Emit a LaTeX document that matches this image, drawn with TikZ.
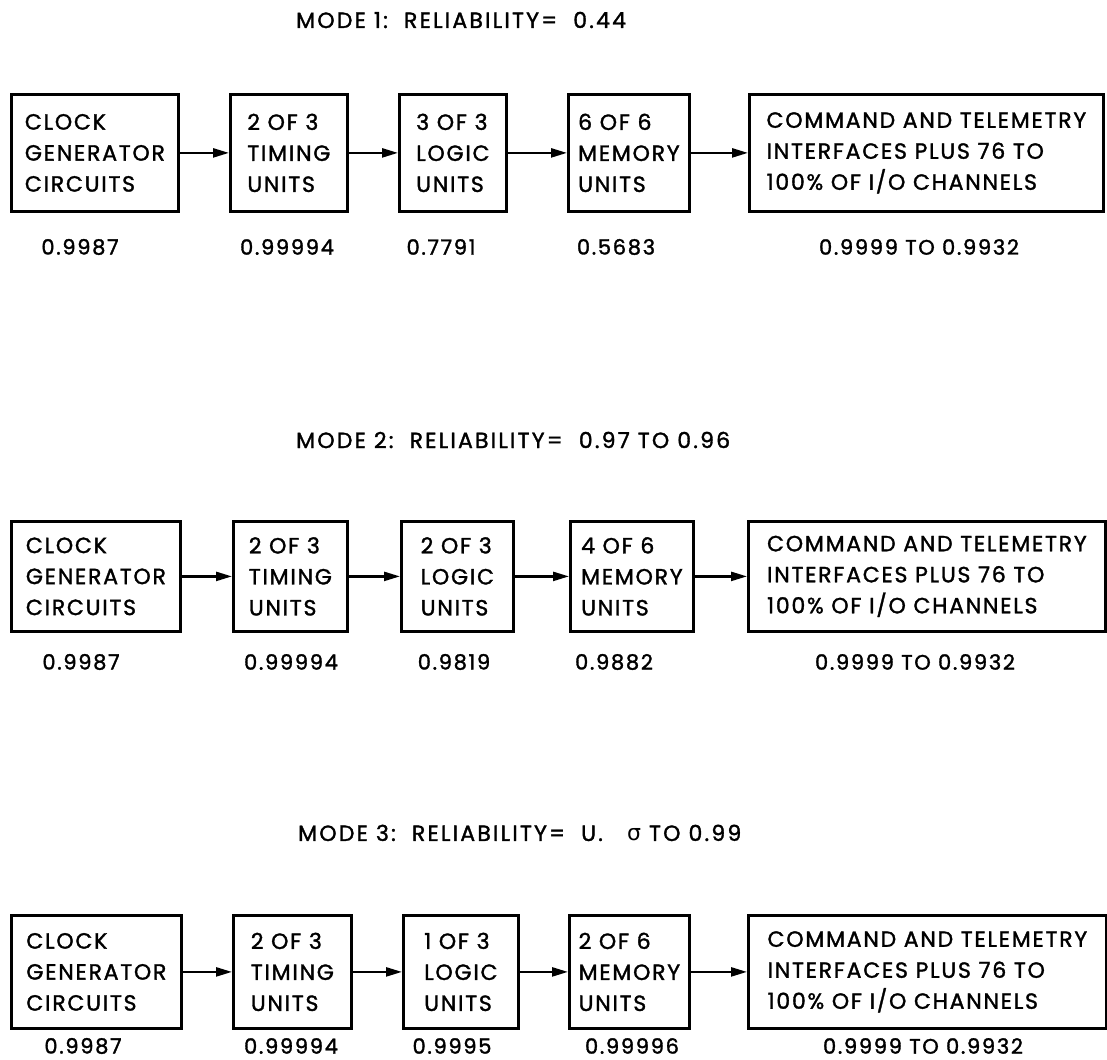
\documentclass[tikz,border=0pt]{standalone}
\usepackage{fontspec}
\setmainfont{Poppins}
\newfontfamily\boxfont{Poppins}[LetterSpace=8,FakeBold=1.5]
\newfontfamily\titlefont{Poppins}[LetterSpace=10,FakeBold=1.5]
\newfontfamily\valuefont{Poppins}[LetterSpace=8,FakeBold=1.5]
\newfontfamily\greekfont{DejaVu Sans}
\usepackage{tikz}
\usetikzlibrary{arrows.meta,positioning}
\tikzset{
  rl diagram/.style={x=1pt, y=-1pt, line join=miter},
  rl box/.style={draw, line width=2.8pt, anchor=north west, align=left,
    inner xsep=3pt, inner ysep=0pt, font=\boxfont\fontsize{22}{31}\selectfont},
  rl arrow/.style={-{Triangle[length=16pt,width=9pt]}, line width=2.4pt},
  rl value/.style={inner sep=0pt, font=\valuefont\fontsize{21}{22}\selectfont},
  rl title/.style={anchor=west, inner sep=0pt, font=\titlefont\fontsize{22}{24}\selectfont}
}

\begin{document}
\begin{tikzpicture}[rl diagram]
\useasboundingbox (0,0) rectangle (1107,1059);
% mode 1
\node[rl title] (title1) at (296,20) {MODE 1:\ \ RELIABILITY=\ \ 0.44};
\node[rl box, minimum width=167pt, minimum height=117pt] (clk1) at (10,93) {CLOCK\\GENERATOR\\CIRCUITS};
\node[rl box, minimum width=117pt, minimum height=117pt] (tim1) at (229,93) {2 OF 3\\TIMING\\UNITS};
\node[rl box, minimum width=107pt, minimum height=117pt] (log1) at (398,93) {3 OF 3\\LOGIC\\UNITS};
\node[rl box, minimum width=121pt, minimum height=117pt] (mem1) at (567,93) {6 OF 6\\MEMORY\\UNITS};
\node[rl box, minimum width=354pt, minimum height=117pt] (cmd1) at (748,93) {COMMAND AND TELEMETRY\\INTERFACES PLUS 76 TO\\100\% OF I/O CHANNELS};
\node[rl value] (clkv1) at (80,247) {0.9987};
\node[rl value] (timv1) at (287,247) {0.99994};
\node[rl value] (logv1) at (441,247) {0.7791};
\node[rl value] (memv1) at (616,247) {0.5683};
\node[rl value] (cmdv1) at (919,247) {0.9999 TO 0.9932};
% mode 2
\node[rl title] (title2) at (296,440) {MODE 2:\ \ RELIABILITY=\ \ 0.97 TO 0.96};
\node[rl box, minimum width=169pt, minimum height=110pt] (clk2) at (10,520) {CLOCK\\GENERATOR\\CIRCUITS};
\node[rl box, minimum width=114pt, minimum height=110pt] (tim2) at (232,520) {2 OF 3\\TIMING\\UNITS};
\node[rl box, minimum width=112pt, minimum height=110pt] (log2) at (400,520) {2 OF 3\\LOGIC\\UNITS};
\node[rl box, minimum width=123pt, minimum height=110pt] (mem2) at (569,520) {4 OF 6\\MEMORY\\UNITS};
\node[rl box, minimum width=357pt, minimum height=110pt] (cmd2) at (747,520) {COMMAND AND TELEMETRY\\INTERFACES PLUS 76 TO\\100\% OF I/O CHANNELS};
\node[rl value] (clkv2) at (81,662) {0.9987};
\node[rl value] (timv2) at (291,662) {0.99994};
\node[rl value] (logv2) at (454,662) {0.9819};
\node[rl value] (memv2) at (614,662) {0.9882};
\node[rl value] (cmdv2) at (915,662) {0.9999 TO 0.9932};
% mode 3
\node[rl title] (title3) at (298,833) {MODE 3:\ \ RELIABILITY=\ \ U.\ \ \ {\greekfont σ}\ TO 0.99};
\node[rl box, minimum width=170pt, minimum height=113pt] (clk3) at (10,914) {CLOCK\\GENERATOR\\CIRCUITS};
\node[rl box, minimum width=118pt, minimum height=113pt] (tim3) at (232,914) {2 OF 3\\TIMING\\UNITS};
\node[rl box, minimum width=115pt, minimum height=113pt] (log3) at (402,914) {1 OF 3\\LOGIC\\UNITS};
\node[rl box, minimum width=120pt, minimum height=113pt] (mem3) at (568,914) {2 OF 6\\MEMORY\\UNITS};
\node[rl box, minimum width=358pt, minimum height=113pt] (cmd3) at (747,914) {COMMAND AND TELEMETRY\\INTERFACES PLUS 76 TO\\100\% OF I/O CHANNELS};
\node[rl value] (clkv3) at (83,1046) {0.9987};
\node[rl value] (timv3) at (291,1046) {0.99994};
\node[rl value] (logv3) at (452,1046) {0.9995};
\node[rl value] (memv3) at (632,1046) {0.99996};
\node[rl value] (cmdv3) at (923,1046) {0.9999 TO 0.9932};
% chains
\foreach \r in {1,2,3}
  \foreach \a/\b in {clk/tim,tim/log,log/mem,mem/cmd}
    \draw[rl arrow] (\a\r.east) -- (\b\r.west);
\end{tikzpicture}
\end{document}
